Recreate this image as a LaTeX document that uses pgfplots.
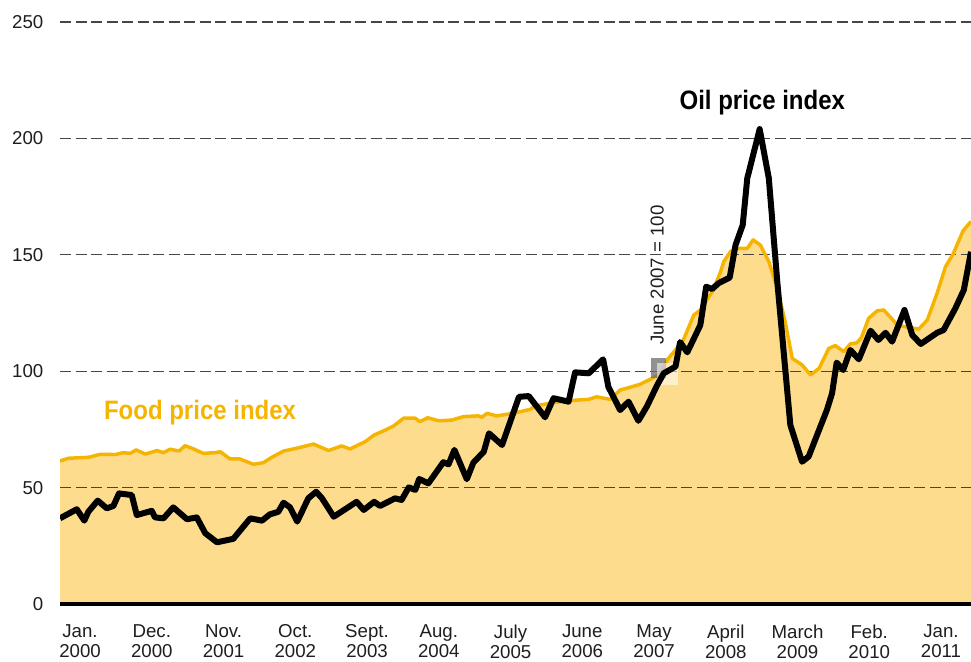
\documentclass[border=0pt]{standalone}
\usepackage{fontspec}
\setmainfont{Liberation Sans}
\newfontfamily\headfont{Liberation Sans}[FakeStretch=0.9]
\usepackage{pgfplots}
\pgfplotsset{compat=1.18}
\definecolor{foodline}{RGB}{245,180,0}
\definecolor{foodfill}{RGB}{253,220,142}
\definecolor{gridgray}{RGB}{70,70,70}
\definecolor{ticktext}{RGB}{30,30,30}

% x = months since Jan. 2000, y = index (June 2007 = 100)
\pgfplotstableread{
m v
-3.07 61.4
-1.8 62.6
1.3 63.0
3.1 64.3
5.4 64.2
6.6 65.0
7.7 64.7
8.6 66.2
10.0 64.4
11.8 65.9
12.8 65.0
13.8 66.5
15.2 65.7
16.1 68.0
17.4 66.6
18.9 64.7
20.7 65.0
21.5 65.4
23.0 62.3
24.5 62.3
26.6 60.0
28.1 60.7
29.4 63.0
31.2 65.7
33.2 66.9
35.8 68.7
38.1 65.9
40.1 67.9
41.4 66.6
43.7 69.7
45.1 72.6
46.8 74.7
48.1 76.5
49.6 79.8
51.4 79.8
52.1 78.3
53.3 80.0
55.0 78.7
57.0 79.0
58.8 80.5
61.1 80.8
61.6 80.2
62.4 81.9
63.9 80.8
65.7 81.6
67.5 82.6
69.0 83.6
69.8 85.1
72.6 86.5
74.6 87.3
78.0 87.9
79.2 89.0
81.3 87.9
82.8 91.9
84.6 93.3
85.9 94.4
87.7 96.9
89.0 99.1
90.2 105.5
91.5 109.8
92.5 113.4
94.1 124.1
95.1 126.3
97.1 134.9
98.2 142.7
98.7 147.1
99.7 151.3
100.5 152.8
102.3 152.8
103.2 156.4
104.3 154.2
105.6 147.1
106.9 135.6
108.1 121.3
109.2 105.5
110.7 102.7
112.0 98.4
113.3 101.2
114.8 109.8
115.8 111.0
117.1 108.4
118.1 111.7
119.1 112.2
119.8 114.4
120.9 122.7
122.2 125.9
123.2 126.3
124.5 122.4
125.3 119.8
126.5 119.1
128.6 118.1
129.9 122.0
131.4 133.5
132.7 144.9
133.9 150.6
135.4 160.4
136.6 164.3
}\food

\pgfplotstableread{
m v
-3.07 36.8
-0.5 40.7
0.66 35.8
1.27 39.6
2.71 44.4
4.10 41.1
5.11 42.1
5.98 47.5
7.93 46.8
8.70 38.2
9.71 39.0
11.0 40.0
11.5 37.2
12.8 36.8
14.3 41.5
16.4 36.4
17.9 37.2
19.2 30.4
21.0 26.5
23.5 28.0
26.1 36.8
27.9 35.8
29.1 38.5
30.4 39.6
31.2 43.5
32.2 41.5
33.3 35.4
35.0 45.4
36.2 48.2
37.1 45.4
38.9 37.5
42.4 43.9
43.5 40.4
45.1 43.9
46.0 42.1
48.3 45.4
49.3 44.7
50.4 50.1
51.4 49.0
52.0 53.7
53.4 51.8
55.7 60.9
56.5 60.0
57.4 66.2
59.3 53.6
60.3 60.7
61.9 65.4
62.7 73.3
64.7 68.3
67.3 89.0
68.8 89.3
71.3 80.2
72.6 88.4
74.9 86.9
75.9 99.5
78.0 99.1
80.2 105.1
81.0 93.3
82.8 83.3
84.1 86.9
85.6 78.7
86.9 84.8
88.5 94.1
89.5 99.1
91.3 102.0
92.0 112.5
93.1 108.1
95.1 119.8
96.0 136.3
96.9 135.3
97.9 137.8
99.6 140.2
100.5 154.2
101.6 162.8
102.3 182.9
104.2 204.0
105.6 182.9
106.9 138.4
108.9 76.9
110.7 61.1
111.7 63.3
114.5 83.3
115.3 90.5
116.0 103.7
117.0 100.5
118.1 109.1
119.4 105.1
121.2 117.4
122.4 113.4
123.5 116.5
124.5 112.7
126.4 126.3
127.6 115.5
128.9 111.7
131.4 116.5
132.4 117.7
134.2 127.0
135.5 134.9
136.6 151.3
}\oil

\begin{document}
\begin{tikzpicture}
\pgfplotsset{set layers}
\begin{axis}[width=683.25pt, height=436.5pt, scale only axis,
  xmin=-3.07, xmax=136.6, ymin=0, ymax=250,
  axis lines*=left,
  x axis line style={line width=2.6pt, black},
  y axis line style={draw=none},
  major tick length=0pt,
  ytick={0,50,...,250},
  xtick={0,11,...,132},
  xticklabels={{Jan.\\2000},{Dec.\\2000},{Nov.\\2001},{Oct.\\2002},{Sept.\\2003},{Aug.\\2004},{July\\2005},{June\\2006},{May\\2007},{April\\2008},{March\\2009},{Feb.\\2010},{Jan.\\2011}},
  tick label style={font=\fontsize{14}{15}\selectfont, text=ticktext},
  xticklabel style={align=center, yshift=-12pt},
  yticklabel style={xshift=-9pt},
  /pgf/number format/assume math mode=true,
  ymajorgrids,
  grid style={line width=1pt, gridgray, dash pattern=on 8.25pt off 3.4pt},
  clip=true]
  \addplot[draw=none, fill=foodfill, on layer=axis background] table[x=m,y=v] {\food} \closedcycle;
  \addplot[foodline, line width=2.6pt, line join=round] table[x=m,y=v] {\food};
  \fill[gray!85!black, opacity=0.75] (axis cs:87.6,97.1) rectangle (axis cs:89.9,105.7);
  \fill[white, opacity=0.55] (axis cs:88.5,94.1) rectangle (axis cs:91.7,103.5);
  \addplot[black, line width=4.5pt, line join=round] table[x=m,y=v] {\oil};
  \node[text=foodline, font=\headfont\bfseries\fontsize{20}{22}\selectfont] at (axis cs:18.4,82.0) {Food price index};
  \node[text=black, font=\headfont\bfseries\fontsize{20}{22}\selectfont] at (axis cs:104.6,215.2) {Oil price index};
  \node[rotate=90, text=ticktext, font=\fontsize{14}{15}\selectfont] at (axis cs:88.5,141.3) {June 2007 = 100};
  \coordinate (sw) at (rel axis cs:0,0);
  \coordinate (ne) at (rel axis cs:1,1);
\end{axis}
\pgfresetboundingbox
\path ([xshift=-45pt,yshift=-43.5pt]sw) rectangle ([yshift=16.5pt]ne);
\end{tikzpicture}
\end{document}
